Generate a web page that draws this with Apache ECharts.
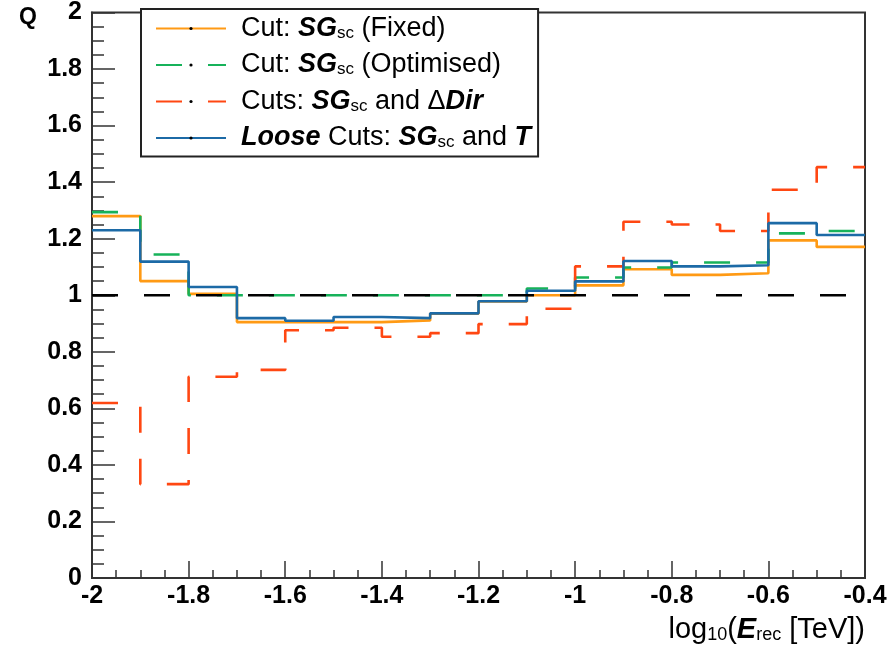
<!DOCTYPE html>
<html>
<head>
<meta charset="utf-8">
<script src="https://cdn.jsdelivr.net/npm/echarts@6/dist/echarts.min.js"></script>
<style>
  html, body { margin: 0; padding: 0; background: #fff; }
  #chart { width: 891px; height: 657px; }
</style>
</head>
<body>
<div id="chart"></div>
<script>
// Bin edges of log10(E_rec [TeV])
const binEdges = [-2.0, -1.9, -1.8, -1.7, -1.6, -1.5, -1.4, -1.3, -1.2, -1.1, -1.0, -0.9, -0.8, -0.7, -0.6, -0.5, -0.4];
const xTicks = [-2, -1.8, -1.6, -1.4, -1.2, -1, -0.8, -0.6, -0.4];
const yTicks = [0, 0.2, 0.4, 0.6, 0.8, 1, 1.2, 1.4, 1.6, 1.8, 2];

// Q per bin (16 bins)
const qFixed     = [1.280, 1.050, 1.005, 0.905, 0.905, 0.905, 0.911, 0.935, 0.978, 1.000, 1.035, 1.092, 1.072, 1.078, 1.194, 1.171];
const qOptimised = [1.294, 1.144, 1.000, 1.000, 1.000, 1.000, 1.000, 1.000, 1.000, 1.024, 1.063, 1.098, 1.116, 1.116, 1.219, 1.227];
const qDeltaDir  = [0.619, 0.332, 0.712, 0.736, 0.876, 0.885, 0.853, 0.866, 0.898, 0.952, 1.102, 1.260, 1.250, 1.227, 1.373, 1.453];
const qLoose     = [1.230, 1.119, 1.029, 0.919, 0.910, 0.923, 0.919, 0.936, 0.979, 1.016, 1.049, 1.121, 1.102, 1.106, 1.255, 1.213];
const referenceQ = 1;

const seriesNames = ['Cut: SGsc (Fixed)', 'Cut: SGsc (Optimised)', 'Cuts: SGsc and \u0394Dir', 'Loose Cuts: SGsc and T'];
const legendRich = {
  'Cut: SGsc (Fixed)': '{g| }{n|Cut: }{b|SG}{s|sc}{n| (Fixed)}',
  'Cut: SGsc (Optimised)': '{g| }{n|Cut: }{b|SG}{s|sc}{n| (Optimised)}',
  'Cuts: SGsc and \u0394Dir': '{g| }{n|Cuts: }{b|SG}{s|sc}{n| and \u0394}{b|Dir}',
  'Loose Cuts: SGsc and T': '{g| }{b|Loose}{n| Cuts: }{b|SG}{s|sc}{n| and }{b|T}'
};

function histData(values) {
  const d = values.map((v, i) => [binEdges[i], v]);
  d.push([binEdges[binEdges.length - 1], values[values.length - 1]]);
  return d;
}

const FONT = 'Liberation Sans, Arial, Helvetica, sans-serif';
const frameColor = '#333';
const colors = ['#ff9a14', '#17b25a', '#ff4712', '#1c6aa6'];
const dash = [26, 26];

function histSeries(name, values, color, dashed, z) {
  return {
    name: name,
    type: 'line',
    step: 'end',
    data: histData(values),
    symbol: 'none',
    animation: false,
    z: z,
    lineStyle: { color: color, width: 2.6, type: dashed ? dash : 'solid', cap: 'butt' },
    itemStyle: { color: color }
  };
}

const chart = echarts.init(document.getElementById('chart'), null, { renderer: 'canvas' });

const richText = {
  n: { fontFamily: FONT, fontSize: 27, color: '#000', lineHeight: 26 },
  b: { fontFamily: FONT, fontSize: 27, color: '#000', fontWeight: 'bold', fontStyle: 'italic', lineHeight: 26 },
  s: { fontFamily: FONT, fontSize: 17, color: '#000', lineHeight: 10, verticalAlign: 'bottom' },
  g: { width: 10, fontSize: 10 }
};

const option = {
  backgroundColor: '#fff',
  animation: false,
  grid: {
    left: 92, right: 26, top: 9, bottom: 79,
    show: true, borderColor: frameColor, borderWidth: 2, backgroundColor: 'transparent'
  },
  legend: {
    data: seriesNames,
    orient: 'vertical',
    left: 141, top: 9,
    padding: [6, 7, 5, 14],
    itemGap: 9.5,
    itemWidth: 70,
    itemHeight: 4,
    backgroundColor: '#fff',
    borderColor: '#222',
    borderWidth: 2,
    borderRadius: 0,
    selectedMode: false,
    itemStyle: { color: '#000' },
    formatter: name => legendRich[name],
    textStyle: { fontFamily: FONT, fontSize: 27, color: '#000', rich: richText }
  },
  xAxis: {
    type: 'value',
    min: xTicks[0], max: xTicks[xTicks.length - 1], interval: 0.2,
    name: '{n|log}{s|10}{n|(}{b|E}{r|rec}{n| [TeV])}',
    nameLocation: 'end',
    nameGap: 0,
    nameTextStyle: {
      align: 'right', verticalAlign: 'top', padding: [38, 0, 0, 0],
      rich: {
        n: { fontFamily: FONT, fontSize: 29, color: '#000', lineHeight: 28 },
        b: { fontFamily: FONT, fontSize: 29, color: '#000', fontWeight: 'bold', fontStyle: 'italic', lineHeight: 28 },
        s: { fontFamily: FONT, fontSize: 18, color: '#000', lineHeight: 6, verticalAlign: 'bottom' },
        r: { fontFamily: FONT, fontSize: 18, color: '#000', lineHeight: 14, verticalAlign: 'bottom' }
      }
    },
    axisLine: { show: true, onZero: false, lineStyle: { color: frameColor, width: 2 } },
    axisTick: { show: true, inside: true, length: 17, lineStyle: { color: frameColor, width: 1.5 } },
    minorTick: { show: true, splitNumber: 4, length: 8, lineStyle: { color: frameColor, width: 1.5 } },
    splitLine: { show: false },
    axisLabel: {
      fontFamily: FONT, fontWeight: 'bold', fontSize: 25, color: '#000', margin: 6,
      formatter: v => String(Math.round(v * 10) / 10)
    }
  },
  yAxis: {
    type: 'value',
    min: yTicks[0], max: yTicks[yTicks.length - 1], interval: 0.2,
    name: 'Q',
    nameLocation: 'end',
    nameGap: -5,
    nameTextStyle: {
      fontFamily: FONT, fontWeight: 'bold', fontSize: 23, color: '#000',
      align: 'right', verticalAlign: 'middle', padding: [0, 55, 0, 0]
    },
    axisLine: { show: true, onZero: false, lineStyle: { color: frameColor, width: 2 } },
    axisTick: { show: true, inside: true, length: 23, lineStyle: { color: frameColor, width: 1.5 } },
    minorTick: { show: true, splitNumber: 4, length: 12, lineStyle: { color: frameColor, width: 1.5 } },
    splitLine: { show: false },
    axisLabel: {
      fontFamily: FONT, fontWeight: 'bold', fontSize: 25, color: '#000', margin: 10,
      formatter: v => String(Math.round(v * 10) / 10)
    }
  },
  series: [
    histSeries(seriesNames[0], qFixed, colors[0], false, 2),
    histSeries(seriesNames[1], qOptimised, colors[1], true, 3),
    histSeries(seriesNames[2], qDeltaDir, colors[2], true, 4),
    histSeries(seriesNames[3], qLoose, colors[3], false, 5),
    {
      name: 'Q = 1',
      type: 'line',
      data: [[binEdges[0], referenceQ], [binEdges[binEdges.length - 1], referenceQ]],
      symbol: 'none',
      z: 6,
      silent: true,
      animation: false,
      lineStyle: { color: '#000', width: 2.6, type: dash, cap: 'butt' }
    }
  ]
};

chart.setOption(option);
</script>
</body>
</html>
